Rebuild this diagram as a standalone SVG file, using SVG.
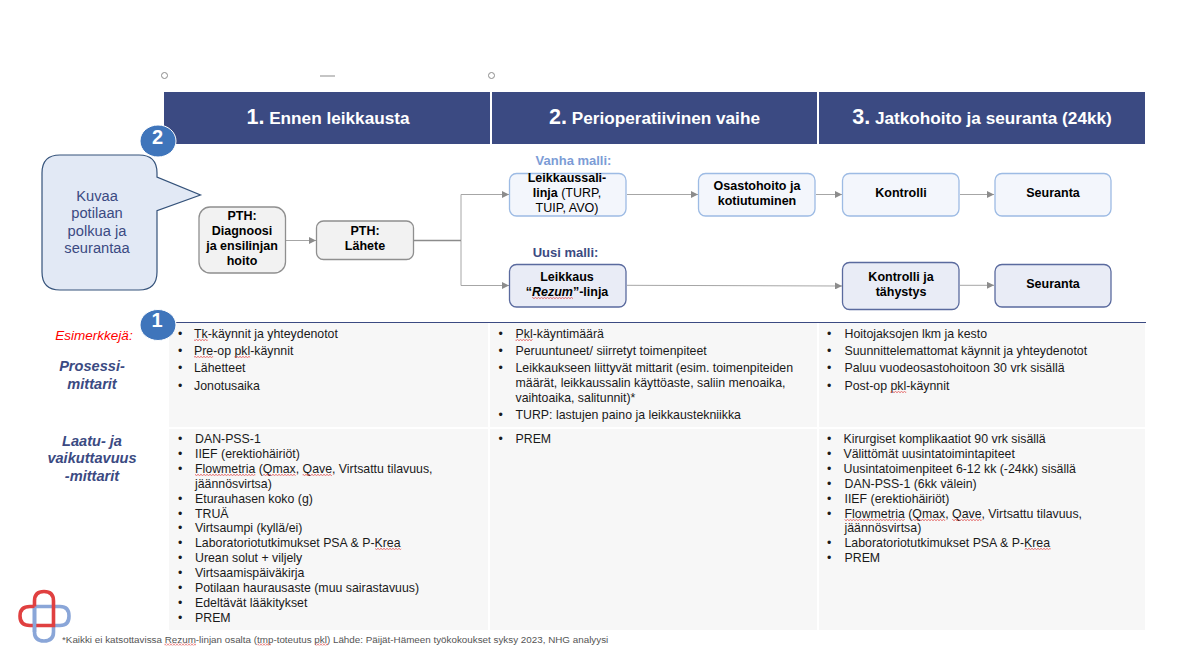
<svg xmlns="http://www.w3.org/2000/svg" width="1177" height="657" viewBox="0 0 1177 657">
<style>
text{font-family:"Liberation Sans",Arial,sans-serif}
.hd{fill:#3b4a82}
.ht{fill:#fff;font-weight:700;font-size:17.2px;text-anchor:middle}
.hn{font-size:21.5px}
.cell{fill:#f7f7f7}
.n{font-size:12.5px;font-weight:700;fill:#000;text-anchor:middle}
.r{font-weight:400}
.grey{fill:#f2f2f2;stroke:#8f8f8f;stroke-width:1.3}
.old{fill:#f3f6fc;stroke:#9dbbe4;stroke-width:1.3}
.new{fill:#e9ecf6;stroke:#5a6a9e;stroke-width:1.3}
.c{fill:none;stroke:#a6a6a6;stroke-width:1}
.arr{marker-end:url(#ah)}
.li{font-size:12.33px;fill:#1a1a1a}
.sq{fill:url(#wave)}
.lab{font-size:14.6px;font-weight:700;font-style:italic;fill:#3b4a82;text-anchor:middle}
.badge{fill:#3f75bb;stroke:#fff;stroke-width:1}
.bt{font-size:20px;font-weight:700;fill:#fff;text-anchor:middle}
</style>
<defs>
<marker id="ah" viewBox="0 0 7 7" refX="7" refY="3.5" markerWidth="7" markerHeight="7" markerUnits="userSpaceOnUse" orient="auto"><path d="M0 0L7 3.5L0 7Z" fill="#8c8c8c"/></marker>
<pattern id="wave" patternUnits="userSpaceOnUse" width="3" height="2"><path d="M0 .4L1.500 1.600L3 .4" fill="none" stroke="#e04545" stroke-width=".8"/></pattern>
</defs>

<g id="decor">
<circle cx="164.5" cy="75.5" r="3" fill="#fff" stroke="#8c8c8c"/>
<circle cx="491.5" cy="75.5" r="3" fill="#fff" stroke="#8c8c8c"/>
<path d="M320 76H335" stroke="#a6a6a6" stroke-width="1.3"/>
</g>

<g id="headers">
<rect class="hd" x="164" y="92" width="326" height="52"/>
<rect class="hd" x="492" y="92" width="325" height="52"/>
<rect class="hd" x="819" y="92" width="326" height="52"/>
<text class="ht" x="328" y="123.5"><tspan class="hn">1.</tspan> Ennen leikkausta</text>
<text class="ht" x="654.5" y="123.5"><tspan class="hn">2.</tspan> Perioperatiivinen vaihe</text>
<text class="ht" x="982" y="123.5"><tspan class="hn">3.</tspan> Jatkohoito ja seuranta (24kk)</text>
</g>

<g id="table">
<rect class="cell" x="169" y="323" width="319" height="104"/>
<rect class="cell" x="490" y="323" width="327" height="104"/>
<rect class="cell" x="819" y="323" width="326" height="104"/>
<rect class="cell" x="169" y="429" width="319" height="201"/>
<rect class="cell" x="490" y="429" width="327" height="201"/>
<rect class="cell" x="819" y="429" width="326" height="201"/>
<path d="M176 322.5H1146" stroke="#3b4a82" stroke-width="1"/>
</g>

<g id="connectors">
<path class="c arr" d="M286 240.5H316"/>
<path class="c arr" d="M461 240.5V194.5H509"/>
<path class="c arr" d="M461 240.5V285.5H509"/>
<path class="c" d="M414 240.5H461" style="stroke:#8c8c8c;stroke-width:1.3"/>
<path class="c arr" d="M627 194.5H698"/>
<path class="c arr" d="M816 194.5H842"/>
<path class="c arr" d="M960 194.5H994"/>
<path class="c arr" d="M627 285.3L842 286"/>
<path class="c arr" d="M960 285.3H994"/>
</g>

<g id="callout">
<path d="M60 155H139Q157 155 157 173V177L200.5 195L157 210.7V272Q157 290 139 290H60Q42 290 42 272V173Q42 155 60 155Z" fill="#e2e9f5" stroke="#34527a" stroke-width="1.2"/>
<g font-size="14.7" fill="#3b4a82" text-anchor="middle"><text x="97" y="201">Kuvaa</text><text x="97" y="218">potilaan</text><text x="97" y="235.500">polkua ja</text><text x="97" y="253">seurantaa</text></g>
</g>

<g id="badge-2"><ellipse class="badge" cx="158" cy="141" rx="18" ry="16"/><text class="bt" x="157.5" y="144">2</text></g>
<g id="badge-1"><ellipse class="badge" cx="158" cy="325" rx="18" ry="15.5"/><text class="bt" x="157" y="327">1</text></g>

<g id="node-diagnoosi"><rect class="grey" x="199" y="207" width="86.5" height="66" rx="11"/>
<text class="n" x="242" y="220">PTH:</text><text class="n" x="242" y="235">Diagnoosi</text><text class="n" x="242" y="250">ja ensilinjan</text><text class="n" x="242" y="265">hoito</text></g>
<g id="node-lahete"><rect class="grey" x="316.5" y="221" width="97" height="38.5" rx="7"/>
<text class="n" x="365" y="235">PTH:</text><text class="n" x="365" y="250">Lähete</text></g>

<text id="label-vanha" x="573.5" y="164.5" font-size="13" font-weight="700" fill="#7c9cd6" text-anchor="middle">Vanha malli:</text>
<text id="label-uusi" x="565.5" y="257" font-size="13" font-weight="700" fill="#3b4a82" text-anchor="middle">Uusi malli:</text>

<g id="node-leikkaussali"><rect class="old" x="509.5" y="173.5" width="116.5" height="42.5" rx="7"/>
<text class="n" x="567" y="182">Leikkaussali-</text><text class="n" x="567" y="197">linja <tspan class="r">(TURP,</tspan></text><text class="n r" x="567" y="212">TUIP, AVO)</text></g>
<g id="node-osasto"><rect class="old" x="698.5" y="173.5" width="116.5" height="42.5" rx="7"/>
<text class="n" x="757" y="190">Osastohoito ja</text><text class="n" x="757" y="205">kotiutuminen</text></g>
<g id="node-kontrolli"><rect class="old" x="842.5" y="173.5" width="116.5" height="42.5" rx="7"/>
<text class="n" x="901" y="197">Kontrolli</text></g>
<g id="node-seuranta"><rect class="old" x="995" y="173.5" width="116" height="42.5" rx="7"/>
<text class="n" x="1053" y="197">Seuranta</text></g>

<g id="node-leikkaus"><rect class="new" x="509.5" y="264.5" width="116.5" height="42.5" rx="7"/>
<text class="n" x="567" y="281">Leikkaus</text><text class="n" x="567" y="296">“<tspan font-style="italic">Rezum</tspan>”-linja</text>
<rect class="sq" x="532" y="297" width="41" height="2"/></g>
<g id="node-kontrolli-tahystys"><rect class="new" x="842.5" y="262.5" width="116.5" height="47" rx="7"/>
<text class="n" x="901" y="281">Kontrolli ja</text><text class="n" x="901" y="296">tähystys</text></g>
<g id="node-seuranta-uusi"><rect class="new" x="995" y="264.5" width="116" height="42.5" rx="7"/>
<text class="n" x="1053" y="288">Seuranta</text></g>

<g id="row-labels">
<text x="94" y="340" font-size="13.5" font-style="italic" fill="#f00" text-anchor="middle">Esimerkkejä:</text>
<text class="lab" x="92" y="371">Prosessi-</text><text class="lab" x="92" y="389">mittarit</text>
<text class="lab" x="92" y="446">Laatu- ja</text><text class="lab" x="92" y="463">vaikuttavuus</text><text class="lab" x="92" y="481">-mittarit</text>
</g>

<g id="col1">
<text class="li" x="178" y="338">•</text><text class="li" x="194" y="338">Tk-käynnit ja yhteydenotot</text>
<text class="li" x="178" y="355">•</text><text class="li" x="194" y="355">Pre-op pkl-käynnit</text>
<text class="li" x="178" y="372">•</text><text class="li" x="194" y="372">Lähetteet</text>
<text class="li" x="178" y="390">•</text><text class="li" x="194" y="390">Jonotusaika</text>
<text class="li" x="178" y="443">•</text><text class="li" x="195" y="443">DAN-PSS-1</text>
<text class="li" x="178" y="458">•</text><text class="li" x="195" y="458">IIEF (erektiohäiriöt)</text>
<text class="li" x="178" y="473">•</text><text class="li" x="195" y="473">Flowmetria (Qmax, Qave, Virtsattu tilavuus,</text>
<text class="li" x="195" y="488">jäännösvirtsa)</text>
<text class="li" x="178" y="503">•</text><text class="li" x="195" y="503">Eturauhasen koko (g)</text>
<text class="li" x="178" y="518">•</text><text class="li" x="195" y="518">TRUÄ</text>
<text class="li" x="178" y="532">•</text><text class="li" x="195" y="532">Virtsaumpi (kyllä/ei)</text>
<text class="li" x="178" y="547">•</text><text class="li" x="195" y="547">Laboratoriotutkimukset PSA &amp; P-Krea</text>
<text class="li" x="178" y="562">•</text><text class="li" x="195" y="562">Urean solut + viljely</text>
<text class="li" x="178" y="577">•</text><text class="li" x="195" y="577">Virtsaamispäiväkirja</text>
<text class="li" x="178" y="592">•</text><text class="li" x="195" y="592">Potilaan haurausaste (muu sairastavuus)</text>
<text class="li" x="178" y="607">•</text><text class="li" x="195" y="607">Edeltävät lääkitykset</text>
<text class="li" x="178" y="622">•</text><text class="li" x="195" y="622">PREM</text>
<rect class="sq" x="194" y="339" width="13.700" height="2"/>
<rect class="sq" x="194" y="356" width="19.200" height="2"/>
<rect class="sq" x="234.400" y="356" width="15.800" height="2"/>
<rect class="sq" x="195" y="474" width="60.300" height="2"/>
<rect class="sq" x="262.800" y="474" width="32.900" height="2"/>
<rect class="sq" x="302.600" y="474" width="29.500" height="2"/>
<rect class="sq" x="375.200" y="548" width="26" height="2"/>
</g>

<g id="col2">
<text class="li" x="498.500" y="338">•</text><text class="li" x="515.500" y="338">Pkl-käyntimäärä</text>
<text class="li" x="498.500" y="355">•</text><text class="li" x="515.500" y="355">Peruuntuneet/ siirretyt toimenpiteet</text>
<text class="li" x="498.500" y="372">•</text><text class="li" x="515.500" y="372">Leikkaukseen liittyvät mittarit (esim. toimenpiteiden</text>
<text class="li" x="515.500" y="387">määrät, leikkaussalin käyttöaste, saliin menoaika,</text>
<text class="li" x="515.500" y="402">vaihtoaika, salitunnit)*</text>
<text class="li" x="498.500" y="419">•</text><text class="li" x="515.500" y="419">TURP: lastujen paino ja leikkaustekniikka</text>
<text class="li" x="498.500" y="443">•</text><text class="li" x="515.500" y="443">PREM</text>
<rect class="sq" x="515.500" y="339" width="17.100" height="2"/>
</g>

<g id="col3">
<text class="li" x="827" y="338">•</text><text class="li" x="844.500" y="338">Hoitojaksojen lkm ja kesto</text>
<text class="li" x="827" y="355">•</text><text class="li" x="844.500" y="355">Suunnittelemattomat käynnit ja yhteydenotot</text>
<text class="li" x="827" y="372">•</text><text class="li" x="844.500" y="372">Paluu vuodeosastohoitoon 30 vrk sisällä</text>
<text class="li" x="827" y="390">•</text><text class="li" x="844.500" y="390">Post-op pkl-käynnit</text>
<text class="li" x="827" y="443">•</text><text class="li" x="843.500" y="443">Kirurgiset komplikaatiot 90 vrk sisällä</text>
<text class="li" x="827" y="458">•</text><text class="li" x="843.500" y="458">Välittömät uusintatoimintapiteet</text>
<text class="li" x="827" y="473">•</text><text class="li" x="843.500" y="473">Uusintatoimenpiteet 6-12 kk (-24kk) sisällä</text>
<text class="li" x="827" y="488">•</text><text class="li" x="844.500" y="488">DAN-PSS-1 (6kk välein)</text>
<text class="li" x="827" y="503">•</text><text class="li" x="844.500" y="503">IIEF (erektiohäiriöt)</text>
<text class="li" x="827" y="518">•</text><text class="li" x="844.500" y="518">Flowmetria (Qmax, Qave, Virtsattu tilavuus,</text>
<text class="li" x="844.500" y="532">jäännösvirtsa)</text>
<text class="li" x="827" y="547">•</text><text class="li" x="844.500" y="547">Laboratoriotutkimukset PSA &amp; P-Krea</text>
<text class="li" x="827" y="562">•</text><text class="li" x="844.500" y="562">PREM</text>
<rect class="sq" x="890.400" y="391" width="15.800" height="2"/>
<rect class="sq" x="844.500" y="519" width="60.300" height="2"/>
<rect class="sq" x="912.300" y="519" width="32.900" height="2"/>
<rect class="sq" x="952.100" y="519" width="29.500" height="2"/>
<rect class="sq" x="1024.700" y="548" width="26" height="2"/>
</g>

<g id="logo" fill="none" stroke-width="3.6">
<path d="M34.500 606.500H60Q69 606.500 69 616Q69 625.500 60 625.500H53.500V632Q53.500 641 44 641Q34.500 641 34.500 632Z" stroke="#8aa6d8"/>
<path d="M34.500 606.500V601Q34.500 591.500 44 591.500Q53.500 591.500 53.500 601V625.500H30Q20 625.500 20 616Q20 606.500 30 606.500H34.500" stroke="#e04040"/>
<path d="M34.500 608V632" stroke="#8aa6d8"/>
</g>

<g id="footnote">
<text x="62" y="642.500" font-size="9.84" fill="#555">*Kaikki ei katsottavissa Rezum-linjan osalta (tmp-toteutus pkl) Lähde: Päijät-Hämeen työkokoukset syksy 2023, NHG analyysi</text>
<rect class="sq" x="164.500" y="643.500" width="31.500" height="2"/>
<rect class="sq" x="257.500" y="643.500" width="13.500" height="2"/>
<rect class="sq" x="315" y="643.500" width="13" height="2"/>
</g>
</svg>
